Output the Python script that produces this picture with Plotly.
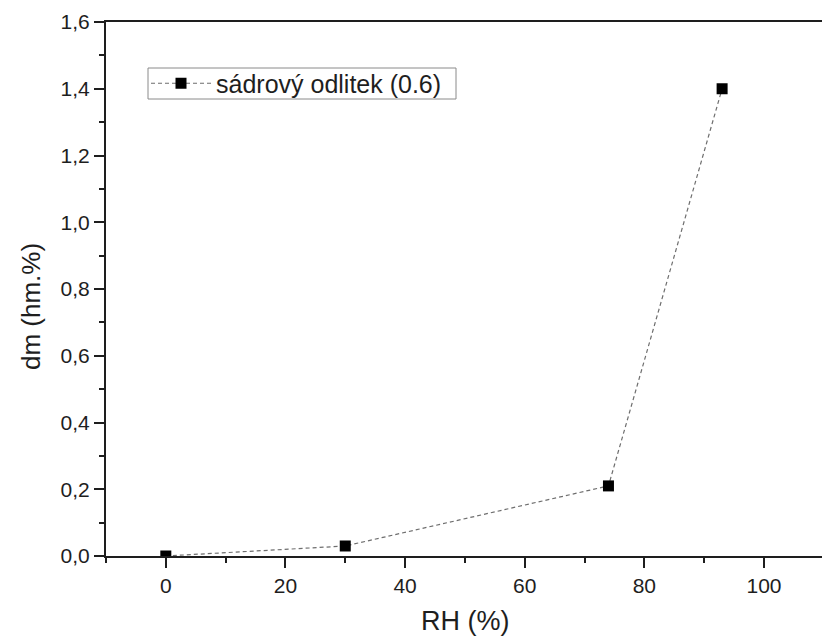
import plotly.graph_objects as go

rh = [0, 30, 74, 93]
dm = [0.0, 0.03, 0.21, 1.40]
series_name = "sádrový odlitek (0.6)"
x_title = "RH (%)"
y_title = "dm (hm.%)"

FONT = "Liberation Sans, Arial, sans-serif"
INK = "#1e1e1e"

L, T, B, W, H = 106, 22, 556, 822, 637
PW, PH = W - L, B - T

def px_x(x):
    return (x - L) / PW

def px_y(y):
    return (B - y) / PH

fig = go.Figure()
fig.add_trace(go.Scatter(
    x=rh, y=dm, mode="lines+markers", name=series_name,
    line=dict(color="#6e6e6e", width=1.2, dash="4px,3px"),
    marker=dict(symbol="square", size=11, color="black"),
    cliponaxis=True,
))

fig.update_layout(
    width=W, height=H,
    margin=dict(l=L, r=0, t=T, b=H - B),
    paper_bgcolor="white", plot_bgcolor="white",
    separators=", ",
    font=dict(family=FONT, size=21, color=INK),
    showlegend=True,
    legend=dict(
        x=px_x(146), y=px_y(83.5), xanchor="left", yanchor="middle",
        borderwidth=0, bgcolor="rgba(0,0,0,0)",
        font=dict(family=FONT, size=25, color=INK),
        itemwidth=60, tracegroupgap=0,
    ),
    shapes=[
        dict(type="rect", xref="paper", yref="paper",
             x0=px_x(148), x1=px_x(456), y0=px_y(99), y1=px_y(68),
             line=dict(color="#8a8a8a", width=1), fillcolor="rgba(0,0,0,0)",
             layer="below"),
    ],
    xaxis=dict(
        range=[-10, 109.7], showgrid=False, zeroline=False,
        showline=True, linecolor=INK, linewidth=2, mirror=True,
        ticks="outside", ticklen=10, tickwidth=1.6, tickcolor=INK,
        tickvals=[0, 20, 40, 60, 80, 100],
        minor=dict(ticks="outside", ticklen=5, tickwidth=1.6, tickcolor=INK,
                   dtick=10, tick0=0, showgrid=False),
        tickfont=dict(size=21, color=INK),
    ),
    yaxis=dict(
        range=[0, 1.6], showgrid=False, zeroline=False,
        showline=True, linecolor=INK, linewidth=2,
        ticks="outside", ticklen=10, tickwidth=1.6, tickcolor=INK,
        dtick=0.2, tick0=0, tickformat=".1f",
        minor=dict(ticks="outside", ticklen=5, tickwidth=1.6, tickcolor=INK,
                   dtick=0.1, tick0=0, showgrid=False),
        tickfont=dict(size=21, color=INK),
    ),
    annotations=[
        dict(text=x_title, xref="paper", yref="paper",
             x=px_x(465), y=px_y(621),
             xanchor="center", yanchor="middle", showarrow=False,
             font=dict(family=FONT, size=27, color=INK)),
        dict(text=y_title, xref="paper", yref="paper",
             x=px_x(31), y=px_y(307),
             xanchor="center", yanchor="middle", showarrow=False,
             textangle=-90,
             font=dict(family=FONT, size=26, color=INK)),
    ],
)

fig.write_html("out.html")
